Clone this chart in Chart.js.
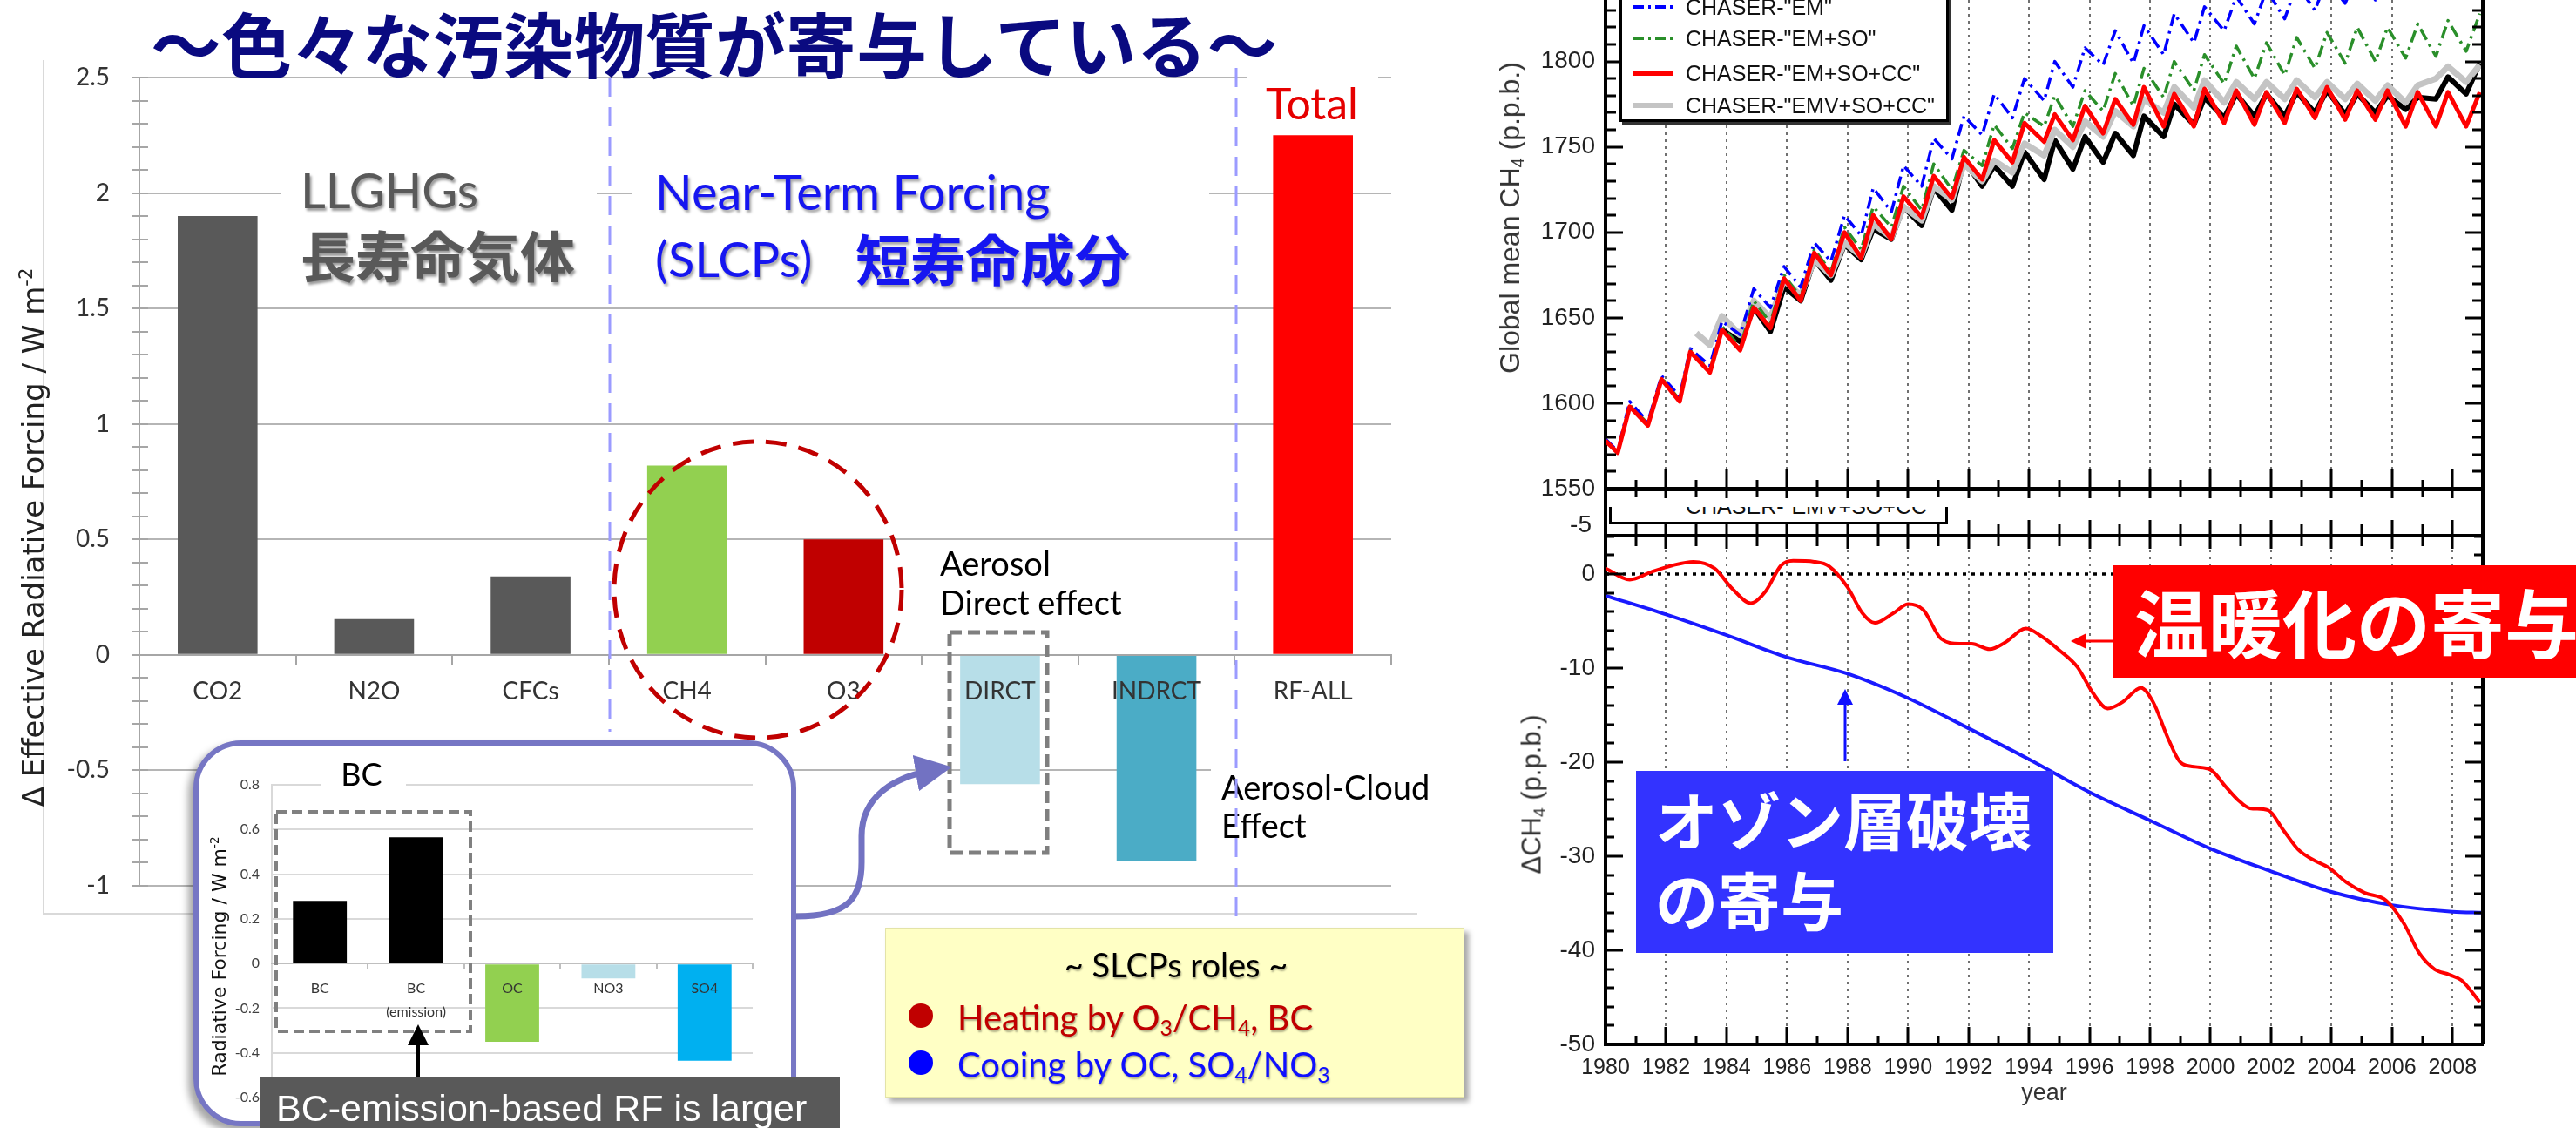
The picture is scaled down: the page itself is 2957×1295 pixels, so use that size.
<!DOCTYPE html>
<html lang="ja">
<head>
<meta charset="utf-8">
<title>SLCP forcing and CH4</title>
<script src="https://cdn.jsdelivr.net/npm/chart.js@4.4.1/dist/chart.umd.min.js"></script>
<style>
  html, body { margin: 0; padding: 0; background: #fff; }
  #stage { position: relative; width: 2957px; height: 1295px; overflow: hidden; background: #fff; }
  #stage canvas { position: absolute; }
  .t { position: absolute; white-space: nowrap; line-height: 1; transform: translateY(-50%); }
  .tc { position: absolute; white-space: nowrap; line-height: 1; transform: translate(-50%, -50%); }
  .rot { position: absolute; white-space: nowrap; line-height: 1; transform: translate(-50%, -50%) rotate(-90deg); }
  .jp { font-family: 'Noto Sans CJK JP', sans-serif; font-weight: 700; }
  .lato { font-family: Lato, 'Liberation Sans', sans-serif; }
  .lib { font-family: 'Liberation Sans', Arial, sans-serif; }
  .dv { font-family: 'DejaVu Sans', sans-serif; }
  .box { position: absolute; box-sizing: border-box; }
  svg.ov { position: absolute; left: 0; top: 0; overflow: visible; }
  sub { font-size: 0.62em; vertical-align: -0.25em; line-height: 0; }
  sup { font-size: 0.62em; vertical-align: 0.6em; line-height: 0; }
</style>
</head>
<body>
<div id="stage">

  <!-- left: forcing bar chart -->
  <canvas id="forcingChart" width="1700" height="1100" style="left:0;top:0;width:1700px;height:1100px"></canvas>
  <div class="box" style="left:49px;top:69px;width:1578px;height:981px;border-left:2px solid #d9d9d9;border-bottom:2px solid #d9d9d9"></div>

  <div class="t jp" style="left:173px;top:47px;font-size:81px;color:#0a0a80">～色々な汚染物質が寄与している～</div>

  <div class="box" style="left:323px;top:185px;width:362px;height:155px;background:#fff"></div>
  <div class="t lato" style="left:345px;top:218px;font-size:56px;color:#595959;text-shadow:2px 3px 3px rgba(0,0,0,.4)">LLGHGs</div>
  <div class="t jp" style="left:345px;top:290px;font-size:63px;color:#595959;text-shadow:2px 3px 3px rgba(0,0,0,.4)">長寿命気体</div>

  <div class="box" style="left:725px;top:185px;width:663px;height:160px;background:#fff"></div>
  <div class="t lato" style="left:752px;top:220px;font-size:56px;color:#1616f0;text-shadow:2px 3px 3px rgba(0,0,0,.35)">Near-Term Forcing</div>
  <div class="t lato" style="left:752px;top:297px;font-size:56px;color:#1616f0;text-shadow:2px 3px 3px rgba(0,0,0,.35)">(SLCPs)</div>
  <div class="t jp" style="left:982px;top:294px;font-size:63px;color:#1616f0;text-shadow:2px 3px 3px rgba(0,0,0,.35)">短寿命成分</div>

  <div class="box" style="left:1432px;top:76px;width:150px;height:74px;background:#fff"></div>
  <div class="t lato" style="left:1453px;top:118px;font-size:50px;color:#e60000">Total</div>

  <div class="t lato" style="left:1079px;top:646px;font-size:38px;color:#000">Aerosol</div>
  <div class="t lato" style="left:1079px;top:691px;font-size:38px;color:#000">Direct effect</div>
  <div class="box" style="left:1390px;top:870px;width:260px;height:100px;background:#fff"></div>
  <div class="t lato" style="left:1402px;top:903px;font-size:38px;color:#000">Aerosol-Cloud</div>
  <div class="t lato" style="left:1402px;top:947px;font-size:38px;color:#000">Effect</div>

  <div class="rot dv" style="left:38px;top:617px;font-size:34px;color:#222">Δ Effective Radiative Forcing / W m<sup>-2</sup></div>

  <svg class="ov" width="2957" height="1295">
    <defs>
      <marker id="mPurple" markerWidth="6" markerHeight="6" refX="3" refY="3" orient="auto" markerUnits="strokeWidth">
        <path d="M0,0 L6,3 L0,6 Z" fill="#7272c2"/>
      </marker>
    </defs>
    <line x1="700" y1="89" x2="700" y2="840" stroke="#9b9bff" stroke-width="3" stroke-dasharray="22 12"/>
    <line x1="1419" y1="78" x2="1419" y2="1057" stroke="#9b9bff" stroke-width="3" stroke-dasharray="22 12"/>
    <ellipse cx="870" cy="677" rx="165" ry="170" fill="none" stroke="#c00000" stroke-width="5" stroke-dasharray="24 14"/>
    <rect x="1090" y="726" width="112" height="253" fill="none" stroke="#7f7f7f" stroke-width="5" stroke-dasharray="14 7"/>
    <path d="M914,1052 C975,1052 989,1030 989,990 L989,960 C989,915 1025,892 1072,884" fill="none" stroke="#7272c2" stroke-width="7" marker-end="url(#mPurple)"/>
  </svg>

  <!-- BC inset -->
  <div class="box" style="left:222px;top:850px;width:692px;height:443px;border:6px solid #7676c4;border-radius:55px;background:#fff;box-shadow:-6px 6px 8px rgba(0,0,0,.35)"></div>
  <canvas id="bcChart" width="680" height="434" style="left:230px;top:856px;width:680px;height:434px"></canvas>
  <div class="box" style="left:369px;top:870px;width:97px;height:36px;background:#fff"></div>
  <div class="tc lato" style="left:415px;top:888px;font-size:36px;color:#000">BC</div>
  <div class="rot dv" style="left:252px;top:1098px;font-size:22px;color:#111">Radiative Forcing / W m<sup>-2</sup></div>

  <svg class="ov" width="2957" height="1295">
    <defs>
      <marker id="mBlack" markerWidth="6" markerHeight="6" refX="3" refY="3" orient="auto" markerUnits="strokeWidth">
        <path d="M0,0 L6,3 L0,6 Z" fill="#000"/>
      </marker>
    </defs>
    <rect x="317" y="932" width="223" height="252" fill="none" stroke="#808080" stroke-width="4" stroke-dasharray="12 6"/>
    <line x1="480" y1="1243" x2="480" y2="1188" stroke="#000" stroke-width="4" marker-end="url(#mBlack)"/>
  </svg>

  <div class="box" style="left:298px;top:1237px;width:666px;height:70px;background:#595959">
    <div class="lib" style="position:absolute;left:19px;top:14px;font-size:43px;line-height:1;color:#fff;white-space:nowrap">BC-emission-based RF is larger</div>
  </div>

  <!-- SLCP roles box -->
  <div class="box" style="left:1016px;top:1065px;width:665px;height:195px;background:#ffffc5;border:1px solid #e3e3a8;box-shadow:5px 5px 6px rgba(0,0,0,.35)"></div>
  <div class="tc lato" style="left:1350px;top:1107px;font-size:38px;color:#000;text-shadow:1px 2px 2px rgba(0,0,0,.3)">~ SLCPs roles ~</div>
  <div class="box" style="left:1043px;top:1152px;width:28px;height:28px;border-radius:50%;background:#c00000"></div>
  <div class="t lato" style="left:1099px;top:1168px;font-size:40px;color:#c00000;text-shadow:1px 2px 2px rgba(0,0,0,.3)">Heating by O<sub>3</sub>/CH<sub>4</sub>, BC</div>
  <div class="box" style="left:1043px;top:1206px;width:28px;height:28px;border-radius:50%;background:#0000ff"></div>
  <div class="t lato" style="left:1099px;top:1222px;font-size:40px;color:#1010ff;text-shadow:1px 2px 2px rgba(0,0,0,.3)">Cooing by OC, SO<sub>4</sub>/NO<sub>3</sub></div>

  <!-- right: CH4 panels -->
  <canvas id="ch4Chart" width="1257" height="630" style="left:1700px;top:-30px;width:1257px;height:630px"></canvas>
  <canvas id="deltaChart" width="1257" height="735" style="left:1700px;top:560px;width:1257px;height:735px"></canvas>

  <div class="rot lib" style="left:1733px;top:250px;font-size:32px;color:#333">Global mean CH<sub>4</sub> (p.p.b.)</div>
  <div class="rot lib" style="left:1758px;top:912px;font-size:31px;color:#333">ΔCH<sub>4</sub> (p.p.b.)</div>

  <div class="box" style="left:1859px;top:-20px;width:378px;height:160px;border:3px solid #000;background:#fff;box-shadow:3px 3px 0 #333"></div>
  <div class="t lib" style="left:1935px;top:8px;font-size:25px;color:#111">CHASER-"EM"</div>
  <div class="t lib" style="left:1935px;top:44px;font-size:25px;color:#111">CHASER-"EM+SO"</div>
  <div class="t lib" style="left:1935px;top:84px;font-size:25px;color:#111">CHASER-"EM+SO+CC"</div>
  <div class="t lib" style="left:1935px;top:121px;font-size:25px;color:#111">CHASER-"EMV+SO+CC"</div>

  <div class="box" style="left:1847px;top:582px;width:389px;height:20px;border-left:3px solid #000;border-right:3px solid #000;border-bottom:3px solid #000;background:#fff;overflow:hidden">
    <div class="lib" style="position:absolute;left:85px;top:-13px;font-size:25px;line-height:1;color:#111;white-space:nowrap">CHASER-"EMV+SO+CC"</div>
  </div>
  <div class="t lib" style="left:1760px;width:67px;text-align:right;top:602px;font-size:28px;color:#222">-5</div>

  <div class="box" style="left:2425px;top:649px;width:540px;height:129px;background:#ff0000"></div>
  <div class="t jp" style="left:2450px;top:711px;font-size:85px;color:#fff">温暖化の寄与</div>
  <div class="box" style="left:1878px;top:885px;width:479px;height:209px;background:#3333ff"></div>
  <div class="t jp" style="left:1900px;top:939px;font-size:72px;color:#fff">オゾン層破壊</div>
  <div class="t jp" style="left:1900px;top:1031px;font-size:72px;color:#fff">の寄与</div>

  <svg class="ov" width="2957" height="1295">
    <defs>
      <marker id="mRed" markerWidth="6" markerHeight="6" refX="3" refY="3" orient="auto" markerUnits="strokeWidth">
        <path d="M0,0 L6,3 L0,6 Z" fill="#ff0000"/>
      </marker>
      <marker id="mBlue" markerWidth="6" markerHeight="6" refX="3" refY="3" orient="auto" markerUnits="strokeWidth">
        <path d="M0,0 L6,3 L0,6 Z" fill="#1010ff"/>
      </marker>
    </defs>
    <line x1="1875" y1="8" x2="1921" y2="8" stroke="#0000ff" stroke-width="4" stroke-dasharray="12 5 3 5"/>
    <line x1="1875" y1="44" x2="1921" y2="44" stroke="#2a8f2a" stroke-width="4" stroke-dasharray="12 5 3 5"/>
    <line x1="1875" y1="84" x2="1921" y2="84" stroke="#ff0000" stroke-width="6"/>
    <line x1="1875" y1="121" x2="1921" y2="121" stroke="#c4c4c4" stroke-width="6"/>
    <line x1="2425" y1="736" x2="2386" y2="736" stroke="#ff0000" stroke-width="3" marker-end="url(#mRed)"/>
    <line x1="2118" y1="874" x2="2118" y2="800" stroke="#1010ff" stroke-width="3" marker-end="url(#mBlue)"/>
  </svg>
</div>

<script>
// ---- left: effective radiative forcing ----
const forcingLabels = ['CO2', 'N2O', 'CFCs', 'CH4', 'O3', 'DIRCT', 'INDRCT', 'RF-ALL'];
const forcingValues = [1.90, 0.155, 0.34, 0.82, 0.50, -0.56, -0.894, 2.25];
const forcingColors = ['#595959', '#595959', '#595959', '#92d050', '#c00000', '#b7dee8', '#4bacc6', '#ff0000'];
const forcingRange = [-1, 2.5];
const forcingStep = 0.5;

// ---- BC inset ----
const bcLabels = ['BC', ['BC', '(emission)'], 'OC', 'NO3', 'SO4'];
const bcValues = [0.28, 0.565, -0.35, -0.067, -0.435];
const bcColors = ['#000000', '#000000', '#92d050', '#b7dee8', '#00b0f0'];
const bcRange = [-0.6, 0.8];
const bcStep = 0.2;

// ---- global mean CH4 (ppb), seasonal troughs and peaks ----
const seasonYears = [1980.0, 1980.4, 1980.8, 1981.4, 1981.85, 1982.45, 1982.8, 1983.45, 1983.85, 1984.45,
  1984.9, 1985.45, 1985.9, 1986.45, 1986.9, 1987.45, 1987.9, 1988.45, 1988.85, 1989.45,
  1989.85, 1990.45, 1990.85, 1991.45, 1991.85, 1992.45, 1992.85, 1993.45, 1993.85, 1994.5,
  1994.85, 1995.45, 1995.85, 1996.45, 1996.85, 1997.45, 1997.8, 1998.45, 1998.8, 1999.45,
  1999.8, 2000.45, 2000.85, 2001.45, 2001.85, 2002.45, 2002.85, 2003.45, 2003.85, 2004.45,
  2004.85, 2005.45, 2005.85, 2006.45, 2006.85, 2007.45, 2007.85, 2008.45, 2008.9];
const ch4Em = [1579, 1572, 1601, 1589, 1616, 1604, 1632, 1622, 1648, 1640,
  1667, 1656, 1680, 1668, 1694, 1683, 1710, 1698, 1726, 1712,
  1739, 1727, 1755, 1743, 1768, 1757, 1781, 1767, 1790, 1777,
  1800, 1785, 1808, 1798, 1818, 1799, 1821, 1804, 1828, 1811,
  1832, 1818, 1838, 1822, 1842, 1825, 1845, 1830, 1848, 1834,
  1851, 1836, 1853, 1838, 1855, 1840, 1857, 1842, 1860];
const ch4EmSo = [1578, 1571, 1599, 1588, 1615, 1602, 1631, 1619, 1645, 1633,
  1660, 1647, 1675, 1662, 1690, 1677, 1703, 1690, 1715, 1703,
  1727, 1713, 1740, 1725, 1748, 1739, 1763, 1749, 1770, 1762,
  1780, 1762, 1783, 1771, 1793, 1774, 1796, 1779, 1800, 1783,
  1804, 1787, 1809, 1790, 1811, 1792, 1814, 1796, 1817, 1799,
  1820, 1800, 1820, 1802, 1822, 1803, 1824, 1806, 1828];
const ch4EmSoCc = [1578, 1571, 1598, 1587, 1614, 1601, 1630, 1618, 1643, 1631,
  1656, 1644, 1673, 1660, 1688, 1675, 1700, 1685, 1710, 1696,
  1721, 1709, 1733, 1720, 1744, 1731, 1754, 1741, 1764, 1753,
  1769, 1754, 1774, 1758, 1778, 1763, 1785, 1762, 1781, 1762,
  1784, 1764, 1783, 1763, 1782, 1764, 1784, 1767, 1785, 1766,
  1783, 1766, 1783, 1762, 1782, 1762, 1782, 1762, 1782];
const obsYears = seasonYears.slice(8);
const emvYears = [1983.0, 1983.45].concat(obsYears);
const ch4EmvSoCc = [1641, 1634,
  1651, 1640, 1660, 1650, 1672, 1663, 1684, 1675, 1694, 1686,
  1705, 1697, 1715, 1707, 1727, 1719, 1740, 1730, 1742, 1735,
  1752, 1745, 1760, 1750, 1765, 1756, 1771, 1762, 1778, 1770,
  1785, 1773, 1789, 1776, 1788, 1778, 1788, 1778, 1789, 1779,
  1788, 1778, 1787, 1777, 1786, 1776, 1786, 1790, 1797, 1788, 1798];
const ch4Obs = [1643, 1636, 1656, 1642, 1668, 1660, 1684, 1672, 1693, 1684,
  1702, 1696, 1715, 1704, 1726, 1713, 1742, 1727, 1739, 1727,
  1747, 1731, 1754, 1737, 1756, 1741, 1758, 1745, 1768, 1756,
  1775, 1763, 1779, 1767, 1781, 1768, 1781, 1768, 1782, 1770,
  1783, 1769, 1781, 1770, 1780, 1772, 1779, 1778, 1791, 1781, 1799];
const ch4Range = [1550, 1836];

// ---- delta CH4 (ppb) ----
const warmYears = [1980.0, 1980.8, 1981.5, 1982.2, 1982.9, 1983.6, 1984.2, 1984.8, 1985.3, 1985.8,
  1986.2, 1986.9, 1987.4, 1988.0, 1988.5, 1988.9, 1989.5, 1990.0, 1990.5, 1991.1,
  1991.7, 1992.1, 1992.7, 1993.2, 1993.9, 1994.4, 1995.0, 1995.6, 1996.1, 1996.6,
  1997.1, 1997.7, 1998.1, 1998.6, 1999.0, 1999.5, 2000.0, 2000.5, 2000.9, 2001.3,
  2001.9, 2002.4, 2002.9, 2003.4, 2003.9, 2004.5, 2005.1, 2005.8, 2006.4, 2006.9,
  2007.4, 2007.9, 2008.3, 2008.9];
const warmDelta = [0.6, -0.6, 0.2, 0.9, 1.3, 0.6, -1.6, -3.1, -1.8, 0.9,
  1.4, 1.3, 0.8, -1.4, -4.2, -5.2, -4.2, -3.2, -3.8, -6.9,
  -7.4, -7.4, -8.0, -7.3, -5.8, -6.6, -8.1, -9.9, -12.6, -14.3,
  -13.6, -12.1, -13.6, -17.5, -20.0, -20.5, -20.8, -22.6, -24.0, -24.9,
  -25.1, -27.2, -29.3, -30.4, -31.2, -32.8, -33.9, -34.7, -37.2, -40.3,
  -42.0, -42.6, -43.2, -45.5];
const ozoneYears = [1980, 1982, 1984, 1986, 1988, 1990, 1992, 1994, 1996, 1998, 2000, 2002, 2004, 2006, 2008, 2009];
const ozoneDelta = [-2.3, -4.3, -6.5, -8.85, -10.6, -13.2, -16.4, -19.7, -23.2, -26.2, -29.2, -31.6, -33.8, -35.2, -35.9, -36.0];
const zeroYears = [1980, 2009];
const zeroLine = [0, 0];
const deltaRange = [-50, 4.07];
const yearRange = [1980, 2009];

const toPoints = (xs, ys) => xs.map((x, i) => ({ x: x, y: ys[i] }));

Chart.defaults.font.family = "'Liberation Sans', Arial, sans-serif";
Chart.defaults.animation = false;

// short ticks every 0.1 crossing the forcing y axis
const minorTicks = {
  id: 'minorTicks',
  afterDraw(chart, args, o) {
    const { ctx, chartArea: a, scales: { y } } = chart;
    ctx.save();
    ctx.strokeStyle = o.color;
    ctx.lineWidth = 2;
    for (let v = y.min; v <= y.max + 1e-9; v += o.step) {
      const py = Math.round(y.getPixelForValue(v));
      ctx.beginPath();
      ctx.moveTo(a.left - o.out, py);
      ctx.lineTo(a.left + o.inside, py);
      ctx.stroke();
    }
    ctx.restore();
  }
};

// dotted year grid, inward ticks and frame for the CH4 panels
const frameTicks = {
  id: 'frameTicks',
  beforeDatasetsDraw(chart) {
    const { ctx, chartArea: a, scales: { x } } = chart;
    ctx.save();
    ctx.strokeStyle = '#707070';
    ctx.lineWidth = 2;
    ctx.setLineDash([3, 5]);
    x.ticks.forEach(t => {
      if (t.value <= x.min) return;
      const px = Math.round(x.getPixelForValue(t.value));
      ctx.beginPath();
      ctx.moveTo(px, a.top);
      ctx.lineTo(px, a.bottom);
      ctx.stroke();
    });
    ctx.restore();
  },
  afterDraw(chart, args, o) {
    const { ctx, chartArea: a, scales: { x, y } } = chart;
    const line = (x1, y1, x2, y2) => { ctx.beginPath(); ctx.moveTo(x1, y1); ctx.lineTo(x2, y2); ctx.stroke(); };
    ctx.save();
    ctx.strokeStyle = '#000';
    ctx.lineWidth = 3;
    for (let v = Math.ceil(y.min / o.yMinor) * o.yMinor; v <= y.max; v += o.yMinor) {
      const py = Math.round(y.getPixelForValue(v));
      const len = Math.abs(v % o.yMajor) < 1e-6 ? o.yLen[1] : o.yLen[0];
      line(a.left, py, a.left + len, py);
      line(a.right, py, a.right - len, py);
    }
    for (let yr = Math.ceil(x.min); yr <= x.max; yr++) {
      const px = Math.round(x.getPixelForValue(yr));
      const major = yr % 2 === 0;
      const b = major ? o.bottomTicks.major : o.bottomTicks.minor;
      line(px, a.bottom - b[0], px, a.bottom + b[1]);
      if (o.topTicks) {
        const t = major ? o.topTicks.major : o.topTicks.minor;
        line(px, a.top - t[0], px, a.top + t[1]);
      }
    }
    ctx.lineWidth = 4;
    line(a.right, o.strip ? 0 : a.top, a.right, a.bottom);
    if (o.topTicks) line(a.left, a.top, a.right, a.top);
    if (o.strip) line(a.left, 0, a.left, a.top);
    ctx.restore();
  }
};

new Chart(document.getElementById('forcingChart'), {
  type: 'bar',
  data: {
    labels: forcingLabels,
    datasets: [{
      data: forcingValues,
      backgroundColor: forcingColors,
      barPercentage: 0.51,
      categoryPercentage: 1
    }]
  },
  options: {
    responsive: false,
    devicePixelRatio: 1,
    layout: { padding: { left: 0, top: 89, right: 103, bottom: 83 } },
    plugins: {
      legend: { display: false },
      tooltip: { enabled: false },
      minorTicks: { step: 0.1, out: 8, inside: 10, color: '#a6a6a6' }
    },
    scales: {
      x: {
        position: { y: 0 },
        grid: { drawOnChartArea: false, color: '#a6a6a6', lineWidth: 2, tickLength: 11 },
        border: { color: '#a6a6a6', width: 2, z: 1 },
        ticks: { z: 1, font: { family: 'Lato', size: 28 }, color: '#333', padding: 14, maxRotation: 0, autoSkip: false }
      },
      y: {
        min: forcingRange[0],
        max: forcingRange[1],
        afterFit: s => { s.width = 160; },
        grid: { color: '#b5b5b5', lineWidth: 2, tickLength: 8 },
        border: { color: '#a6a6a6', width: 2 },
        ticks: { stepSize: forcingStep, font: { family: 'Lato', size: 28 }, color: '#333', padding: 26, callback: v => String(v) }
      }
    }
  },
  plugins: [minorTicks]
});

new Chart(document.getElementById('bcChart'), {
  type: 'bar',
  data: {
    labels: bcLabels,
    datasets: [{
      data: bcValues,
      backgroundColor: bcColors,
      barPercentage: 0.56,
      categoryPercentage: 1
    }]
  },
  options: {
    responsive: false,
    devicePixelRatio: 1,
    layout: { padding: { left: 0, top: 45, right: 46, bottom: 30 } },
    plugins: { legend: { display: false }, tooltip: { enabled: false } },
    scales: {
      x: {
        position: { y: 0 },
        grid: { drawOnChartArea: false, color: '#bfbfbf', lineWidth: 2, tickLength: 6 },
        border: { color: '#bfbfbf', width: 2, z: 1 },
        ticks: { z: 1, font: { family: 'Lato', size: 16, lineHeight: 1.65 }, color: '#333', padding: 10, maxRotation: 0, autoSkip: false }
      },
      y: {
        min: bcRange[0],
        max: bcRange[1],
        afterFit: s => { s.width = 82; },
        grid: { color: '#d9d9d9', lineWidth: 2, drawTicks: false },
        border: { color: '#d9d9d9', width: 2 },
        ticks: { stepSize: bcStep, font: { family: 'Lato', size: 16 }, color: '#404040', padding: 14, callback: v => String(Number(v.toFixed(1))) }
      }
    }
  }
});

const sawtooth = { pointRadius: 0, tension: 0, borderJoinStyle: 'round', fill: false };

new Chart(document.getElementById('ch4Chart'), {
  type: 'line',
  data: {
    datasets: [
      Object.assign({ label: 'CHASER-"EM+SO+CC"', data: toPoints(seasonYears, ch4EmSoCc), borderColor: '#ff0000', borderWidth: 5, order: 0 }, sawtooth),
      Object.assign({ label: 'CHASER-"EM"', data: toPoints(seasonYears, ch4Em), borderColor: '#0000ff', borderWidth: 3.5, borderDash: [14, 6, 3, 6], order: 1 }, sawtooth),
      Object.assign({ label: 'CHASER-"EM+SO"', data: toPoints(seasonYears, ch4EmSo), borderColor: '#2a8f2a', borderWidth: 3.5, borderDash: [14, 6, 3, 6], order: 2 }, sawtooth),
      Object.assign({ label: 'CHASER-"EMV+SO+CC"', data: toPoints(emvYears, ch4EmvSoCc), borderColor: '#c4c4c4', borderWidth: 7, order: 3 }, sawtooth),
      Object.assign({ label: 'observed', data: toPoints(obsYears, ch4Obs), borderColor: '#000000', borderWidth: 6, order: 4 }, sawtooth)
    ]
  },
  options: {
    responsive: false,
    devicePixelRatio: 1,
    layout: { padding: { left: 0, top: 30, right: 107, bottom: 39 } },
    plugins: {
      legend: { display: false },
      tooltip: { enabled: false },
      frameTicks: {
        yMinor: 10, yMajor: 50, yLen: [12, 20],
        bottomTicks: { minor: [10, 10], major: [22, 11] },
        topTicks: null, strip: false
      }
    },
    scales: {
      x: {
        type: 'linear',
        min: yearRange[0],
        max: yearRange[1],
        afterFit: s => { s.height = 0; },
        grid: { drawOnChartArea: false, drawTicks: false },
        border: { color: '#000', width: 5 },
        ticks: { display: false, stepSize: 2 }
      },
      y: {
        min: ch4Range[0],
        max: ch4Range[1],
        afterFit: s => { s.width = 143; },
        grid: { drawOnChartArea: false, drawTicks: false },
        border: { color: '#000', width: 4 },
        ticks: { stepSize: 50, includeBounds: false, padding: 12, font: { size: 28 }, color: '#222', callback: v => String(v) }
      }
    }
  },
  plugins: [frameTicks]
});

new Chart(document.getElementById('deltaChart'), {
  type: 'line',
  data: {
    datasets: [
      { label: 'warming', data: toPoints(warmYears, warmDelta), borderColor: '#ff0000', borderWidth: 4, pointRadius: 0, cubicInterpolationMode: 'monotone', order: 0 },
      { label: 'ozone depletion', data: toPoints(ozoneYears, ozoneDelta), borderColor: '#1a1aff', borderWidth: 4, pointRadius: 0, cubicInterpolationMode: 'monotone', order: 1 },
      { label: 'zero', data: toPoints(zeroYears, zeroLine), borderColor: '#000', borderWidth: 3.5, borderDash: [4, 6], pointRadius: 0, order: 2 }
    ]
  },
  options: {
    responsive: false,
    devicePixelRatio: 1,
    layout: { padding: { left: 0, top: 55, right: 107, bottom: 0 } },
    plugins: {
      legend: { display: false },
      tooltip: { enabled: false },
      frameTicks: {
        yMinor: 2, yMajor: 10, yLen: [10, 20],
        bottomTicks: { minor: [10, 0], major: [20, 0] },
        topTicks: { minor: [13, 12], major: [18, 15] },
        strip: true
      }
    },
    scales: {
      x: {
        type: 'linear',
        min: yearRange[0],
        max: yearRange[1],
        afterFit: s => { s.height = 96; },
        grid: { drawOnChartArea: false, drawTicks: false },
        border: { color: '#000', width: 4 },
        ticks: { stepSize: 2, includeBounds: false, padding: 12, font: { size: 25 }, color: '#222', maxRotation: 0, callback: v => String(v) },
        title: { display: true, text: 'year', font: { size: 27 }, color: '#333', padding: { top: 0, bottom: 23 } }
      },
      y: {
        min: deltaRange[0],
        max: deltaRange[1],
        afterFit: s => { s.width = 143; },
        grid: { drawOnChartArea: false, drawTicks: false },
        border: { color: '#000', width: 4 },
        ticks: { stepSize: 10, includeBounds: false, padding: 12, font: { size: 28 }, color: '#222', callback: v => String(v) }
      }
    }
  },
  plugins: [frameTicks]
});
</script>
</body>
</html>
